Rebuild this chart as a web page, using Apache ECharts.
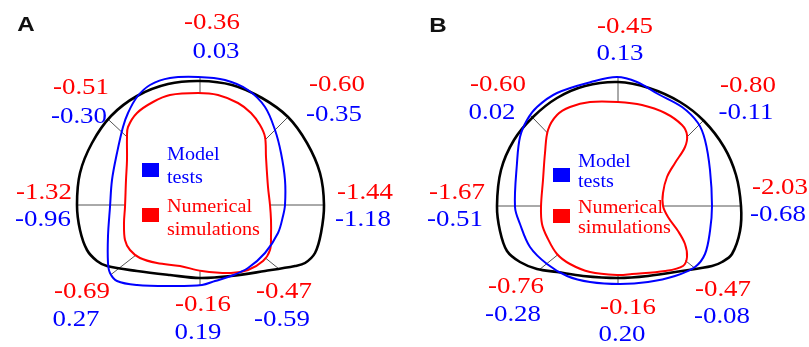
<!DOCTYPE html>
<html><head><meta charset="utf-8">
<script src="https://cdn.jsdelivr.net/npm/echarts@6/dist/echarts.min.js"></script>
<style>html,body{margin:0;padding:0;background:#fff}#c{width:809px;height:347px}</style>
</head><body><div id="c"></div>
<script>
// ---------- DATA ----------
// Directions of the 8 measuring points (clockwise from crown)
const directions = ['top', 'upper-right', 'right', 'lower-right', 'bottom', 'lower-left', 'left', 'upper-left'];
// Panel A values
const numericalA = [-0.36, -0.60, -1.44, -0.47, -0.16, -0.69, -1.32, -0.51];
const modelA     = [0.03, -0.35, -1.18, -0.59, 0.19, 0.27, -0.96, -0.30];
// Panel B values
const numericalB = [-0.45, -0.80, -2.03, -0.47, -0.16, -0.76, -1.67, -0.60];
const modelB     = [0.13, -0.11, -0.68, -0.08, 0.20, -0.28, -0.51, 0.02];

// Traced section outlines (x, y relative to tunnel centre)
const tunnelA = [[124,0],[120,32],[107,62],[88,88],[62,107],[32,120],[0,124],[-32,121],[-63,109],[-89,89],[-108,62],[-120,32],[-123,0],[-120,-25],[-113,-45],[-103,-56],[-93,-61],[-63,-66],[-30,-70],[0,-73],[31,-71],[65,-66],[95,-61],[105,-58],[115,-48],[121,-28]];
const simA = [[70,0],[68,18],[66,48],[65,68],[60,80],[51,92],[38,102],[18,110],[-2,112],[-30,110],[-47,103],[-63,92],[-72,78],[-73,68],[-73,45],[-74,25],[-75,-2],[-76,-18],[-75,-35],[-70,-45],[-60,-53],[-43,-58],[-20,-61],[2,-66],[31,-68],[48,-65],[63,-56],[70,-45],[71,-31],[71,-15]];
const testA = [[85,0],[85,25],[81,52],[75,75],[65,98],[48,115],[25,125],[-2,128],[-30,127],[-50,120],[-63,108],[-72,92],[-77,78],[-83,52],[-88,25],[-90,-2],[-92,-31],[-92,-58],[-90,-68],[-83,-76],[-63,-80],[-30,-81],[2,-80],[15,-76],[31,-71],[48,-63],[65,-48],[78,-28],[83,-11]];

const tunnelB = [[123,0],[118,31],[106,59],[86,85],[62,104],[31,118],[0,124],[-33,120],[-61,108],[-85,89],[-104,66],[-117,36],[-121,0],[-118,-25],[-111,-45],[-98,-56],[-81,-63],[-61,-66],[-35,-70],[0,-72],[30,-70],[64,-65],[94,-60],[104,-56],[114,-48],[122,-25]];
const simB = [[45,0],[45,13],[49,29],[57,43],[67,59],[69,71],[64,81],[47,93],[24,101],[0,104],[-28,104],[-48,99],[-61,91],[-70,76],[-73,53],[-75,26],[-77,-1],[-76,-18],[-71,-31],[-61,-48],[-48,-58],[-28,-66],[0,-69],[14,-68],[47,-65],[65,-60],[69,-51],[67,-38],[60,-25],[50,-11]];
const testB = [[94,0],[92,36],[87,66],[80,83],[64,99],[40,112],[19,124],[-1,129],[-27,124],[-61,113],[-81,99],[-91,86],[-98,69],[-101,43],[-103,-1],[-98,-18],[-88,-41],[-71,-58],[-51,-70],[-28,-76],[2,-78],[30,-76],[57,-70],[77,-61],[87,-48],[92,-25]];

// Spoke angles (degrees, counter-clockwise from +x) per direction
const spokeAnglesA = [90, 45, 0, -39, -90, -142, 180, 137];
const spokeAnglesB = [90, 45, 0, -39, -90, -141, 180, 134];

// ---------- LAYOUT (positions kept apart from data) ----------
const panels = [
  { key: 'A', grid: { left: 0, top: 0, width: 404, height: 347 }, x: [-200, 204], y: [-142, 205],
    numPos:  [[12,182],[137,120],[165,12],[84,-87],[3,-100],[-118,-87],[-156,12],[-119,117]],
    testPos: [[16,153],[134,90],[163,-15],[82,-115],[-2,-128],[-124,-115],[-157,-15],[-121,88]],
    legend: { x: -58, y: 35, gap: 45, lines: [[-15, 8], [-8, 15]] }, title: [-174, 180] },
  { key: 'B', grid: { left: 404, top: 0, width: 405, height: 347 }, x: [-214, 191], y: [-141, 206],
    numPos:  [[7,179],[130,120],[162,18],[105,-84],[10,-102],[-102,-81],[-161,13],[-120,121]],
    testPos: [[2,152],[128,93],[160,-9],[104,-111],[4,-129],[-105,-109],[-163,-14],[-126,93]],
    legend: { x: -65, y: 31, gap: 41, lines: [[-13, 7], [-8, 12]] }, title: [-180, 180] }
];
const datasets = [
  { tunnel: tunnelA, sim: simA, test: testA, spokes: spokeAnglesA, num: numericalA, model: modelA },
  { tunnel: tunnelB, sim: simB, test: testB, spokes: spokeAnglesB, num: numericalB, model: modelB }
];

const RED = '#ff0000', BLUE = '#0000ff';

function rayHit(poly, deg) {
  const a = deg * Math.PI / 180, dx = Math.cos(a), dy = Math.sin(a);
  let best = null;
  for (let i = 0; i < poly.length; i++) {
    const p = poly[i], q = poly[(i + 1) % poly.length];
    const ex = q[0] - p[0], ey = q[1] - p[1];
    const den = dx * ey - dy * ex;
    if (Math.abs(den) < 1e-9) continue;
    const t = (p[0] * ey - p[1] * ex) / den;
    const s = (p[0] * dy - p[1] * dx) / den;
    if (t > 0 && s >= 0 && s <= 1) { if (best === null || t < best) best = t; }
  }
  return best;
}

// closed smooth outline drawn through the axes (custom series, one polygon per series)
function outlineSeries(name, pts, i, color, width, z) {
  return {
    type: 'custom', name: name, xAxisIndex: i, yAxisIndex: i, z: z, silent: true,
    data: pts,
    renderItem: function (params, api) {
      if (params.dataIndex !== 0) return null;
      const points = pts.map(p => api.coord(p));
      return { type: 'polygon', shape: { points: points, smooth: 0.35 },
        style: { fill: 'none', stroke: color, lineWidth: width } };
    }
  };
}

const grids = [], xAxes = [], yAxes = [], series = [];
panels.forEach((pn, i) => {
  const d = datasets[i];
  grids.push(Object.assign({ containLabel: false }, pn.grid));
  const hidden = { show: false };
  xAxes.push({ type: 'value', gridIndex: i, min: pn.x[0], max: pn.x[1], axisLine: hidden, axisTick: hidden, axisLabel: hidden, splitLine: hidden });
  yAxes.push({ type: 'value', gridIndex: i, min: pn.y[0], max: pn.y[1], axisLine: hidden, axisTick: hidden, axisLabel: hidden, splitLine: hidden });
  d.spokes.forEach(ang => {
    const rIn = rayHit(d.sim, ang);
    const rOut = Math.max(rayHit(d.tunnel, ang), rayHit(d.test, ang));
    const a = ang * Math.PI / 180;
    series.push({ type: 'line', xAxisIndex: i, yAxisIndex: i, symbol: 'none', silent: true, z: 1,
      lineStyle: { color: '#555', width: 1 },
      data: [[rIn * Math.cos(a), rIn * Math.sin(a)], [rOut * Math.cos(a), rOut * Math.sin(a)]] });
  });
  series.push(outlineSeries('Tunnel', d.tunnel, i, '#000', 2.6, 2));
  series.push(outlineSeries('Numerical simulations', d.sim, i, RED, 2, 3));
  series.push(outlineSeries('Model tests', d.test, i, BLUE, 2, 4));
});

const chart = echarts.init(document.getElementById('c'), null, { renderer: 'canvas' });
chart.setOption({ animation: false, backgroundColor: '#fff', grid: grids, xAxis: xAxes, yAxis: yAxes, series: series });

// text annotations placed through the axes' scales
const SERIF = '"Liberation Serif","Times New Roman",serif';
const g = [];
function txt(i, pos, text, color, size, sx) {
  const p = chart.convertToPixel({ xAxisIndex: i, yAxisIndex: i }, pos);
  g.push({ type: 'text', x: p[0], y: p[1], scaleX: sx, z: 10,
    style: { text: text, fill: color, font: size + 'px ' + SERIF, align: 'center', verticalAlign: 'middle' } });
}
panels.forEach((pn, i) => {
  const d = datasets[i];
  directions.forEach((dir, k) => {
    txt(i, pn.numPos[k], d.num[k].toFixed(2), RED, 24, 1.12);
    txt(i, pn.testPos[k], d.model[k].toFixed(2), BLUE, 24, 1.12);
  });
  // panel letter
  const t = chart.convertToPixel({ xAxisIndex: i, yAxisIndex: i }, pn.title);
  g.push({ type: 'text', x: t[0], y: t[1], scaleX: 1.15, z: 10,
    style: { text: pn.key, fill: '#111', font: 'bold 21px "Liberation Sans",Arial,sans-serif', align: 'center', verticalAlign: 'middle' } });
  // legend
  const lg = pn.legend;
  const L = chart.convertToPixel({ xAxisIndex: i, yAxisIndex: i }, [lg.x, lg.y]);
  const items = [{ c: BLUE, l: ['Model', 'tests'] }, { c: RED, l: ['Numerical', 'simulations'] }];
  items.forEach((it, j) => {
    const y0 = L[1] + j * lg.gap;
    g.push({ type: 'rect', z: 10, shape: { x: L[0], y: y0 - 7, width: 17, height: 14 }, style: { fill: it.c } });
    it.l.forEach((line, m) => {
      g.push({ type: 'text', x: L[0] + 25, y: y0 + lg.lines[j][m], scaleX: 1.12, z: 10,
        style: { text: line, fill: it.c, font: '18px ' + SERIF, align: 'left', verticalAlign: 'middle' } });
    });
  });
});
chart.setOption({ graphic: { elements: g } });
</script>
</body></html>
